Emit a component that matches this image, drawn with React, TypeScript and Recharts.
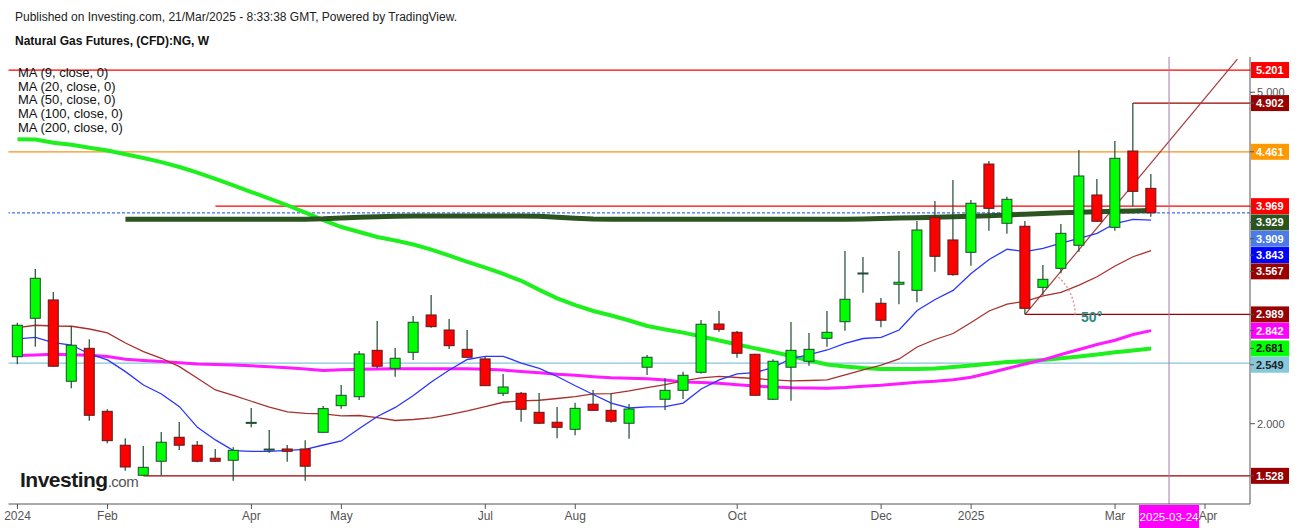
import { Bar, ComposedChart, Line, ReferenceDot, ReferenceLine, XAxis, YAxis } from "recharts";

// weekly candles, week 0 = 2024-01-01
const OPEN = [
  2.606, 2.954, 3.12, 2.384, 2.682, 2.112, 1.805, 1.533, 1.66, 1.877,
  1.805, 1.687, 1.669, 2.005, 1.768, 1.771, 1.771, 1.922, 2.163, 2.244,
  2.664, 2.501, 2.646, 2.984, 2.848, 2.673, 2.586, 2.275, 2.275, 2.103,
  2.013, 1.949, 2.176, 2.121, 2.004, 2.511, 2.221, 2.302, 2.465, 2.902,
  2.827, 2.628, 2.221, 2.511, 2.565, 2.773, 2.923, 3.358, 3.09, 3.262,
  3.207, 3.868, 3.663, 3.551, 4.35, 3.814, 3.787, 3.234, 3.406, 3.615,
  4.07, 3.777, 4.468, 4.13,
];
const HIGH = [
  2.914, 3.4, 3.192, 2.884, 2.764, 2.13, 1.868, 1.798, 1.925, 2.015,
  1.844, 1.771, 1.787, 2.142, 1.943, 1.807, 1.85, 2.16, 2.35, 2.658,
  2.93, 2.685, 2.975, 3.165, 2.948, 2.848, 2.607, 2.45, 2.287, 2.278,
  2.151, 2.19, 2.305, 2.275, 2.178, 2.622, 2.411, 2.471, 2.939, 3.02,
  2.839, 2.632, 2.583, 2.92, 2.821, 3.02, 3.563, 3.509, 3.138, 3.563,
  3.834, 4.015, 4.206, 4.025, 4.377, 4.055, 3.834, 3.436, 3.807, 4.477,
  4.215, 4.558, 4.902, 4.26,
];
const LOW = [
  2.538, 2.697, 2.515, 2.32, 2.027, 1.823, 1.575, 1.528, 1.53, 1.762,
  1.651, 1.655, 1.484, 1.967, 1.738, 1.656, 1.484, 1.918, 2.136, 2.215,
  2.501, 2.425, 2.577, 2.869, 2.676, 2.598, 2.34, 2.251, 2.018, 2.0,
  1.868, 1.895, 2.118, 2.009, 1.864, 2.441, 2.124, 2.224, 2.455, 2.833,
  2.597, 2.25, 2.215, 2.208, 2.525, 2.697, 2.842, 3.186, 2.873, 3.081,
  3.099, 3.376, 3.34, 3.43, 3.747, 3.72, 2.989, 3.165, 3.361, 3.557,
  3.828, 3.747, 3.968, 3.873,
];
const CLOSE = [
  2.891, 3.316, 2.52, 2.71, 2.076, 1.846, 1.608, 1.605, 1.832, 1.805,
  1.66, 1.66, 1.759, 2.012, 1.77, 1.75, 1.615, 2.136, 2.257, 2.631,
  2.52, 2.592, 2.918, 2.878, 2.706, 2.601, 2.344, 2.332, 2.13, 2.004,
  1.967, 2.139, 2.121, 2.022, 2.133, 2.601, 2.302, 2.438, 2.9, 2.854,
  2.637, 2.257, 2.565, 2.664, 2.673, 2.827, 3.126, 3.364, 2.936, 3.28,
  3.753, 3.515, 3.349, 3.995, 3.949, 4.031, 3.044, 3.307, 3.723, 4.242,
  3.832, 4.402, 4.103, 3.909,
];

const MA9 = [
  2.767, 2.782, 2.733, 2.712, 2.631, 2.577, 2.471, 2.35, 2.269, 2.154,
  1.967, 1.853, 1.756, 1.75, 1.75, 1.759, 1.768, 1.807, 1.844, 1.957,
  2.065, 2.147, 2.255, 2.377, 2.486, 2.581, 2.61, 2.61, 2.549, 2.5,
  2.427, 2.343, 2.264, 2.187, 2.142, 2.153, 2.154, 2.187, 2.314, 2.396,
  2.45, 2.463, 2.509, 2.59, 2.626, 2.667, 2.726, 2.771, 2.782, 2.848,
  3.025, 3.124, 3.206, 3.359, 3.486, 3.579, 3.558, 3.587, 3.635, 3.678,
  3.723, 3.812, 3.85, 3.843,
];
const MA20 = [
  2.869, 2.891, 2.884, 2.882, 2.857, 2.821, 2.73, 2.652, 2.592, 2.516,
  2.411, 2.305, 2.257, 2.203, 2.149, 2.106, 2.094, 2.088, 2.07, 2.074,
  2.054, 2.029, 2.038, 2.052, 2.082, 2.115, 2.154, 2.194, 2.206, 2.212,
  2.228, 2.244, 2.269, 2.272, 2.296, 2.326, 2.353, 2.388, 2.414, 2.429,
  2.418, 2.409, 2.396, 2.387, 2.391, 2.396, 2.441, 2.486, 2.531, 2.586,
  2.694, 2.762, 2.816, 2.916, 3.02, 3.083, 3.108, 3.156, 3.189, 3.255,
  3.33, 3.427, 3.511, 3.567,
];
const MA50 = [
  2.617, 2.622, 2.628, 2.624, 2.619, 2.608, 2.584, 2.572, 2.562, 2.551,
  2.54, 2.536, 2.531, 2.524, 2.516, 2.506, 2.495, 2.482, 2.488, 2.492,
  2.496, 2.498, 2.498, 2.498, 2.498, 2.498, 2.493, 2.485, 2.472, 2.462,
  2.447, 2.438, 2.425, 2.415, 2.412, 2.406, 2.396, 2.377, 2.373, 2.366,
  2.353, 2.34, 2.332, 2.325, 2.322, 2.321, 2.328, 2.339, 2.347, 2.361,
  2.375, 2.383, 2.398, 2.42, 2.459, 2.499, 2.54, 2.578, 2.626, 2.672,
  2.717, 2.755, 2.807, 2.842,
];
const MA100 = [
  4.574, 4.572, 4.543, 4.524, 4.498, 4.472, 4.438, 4.405, 4.368, 4.323,
  4.273, 4.216, 4.158, 4.097, 4.038, 3.977, 3.91, 3.842, 3.78, 3.735,
  3.69, 3.658, 3.622, 3.576, 3.521, 3.464, 3.412, 3.355, 3.293, 3.211,
  3.134, 3.074, 3.02, 2.979, 2.934, 2.884, 2.853, 2.824, 2.789, 2.753,
  2.717, 2.682, 2.649, 2.613, 2.572, 2.536, 2.518, 2.504, 2.496, 2.495,
  2.495, 2.5, 2.513, 2.527, 2.543, 2.558, 2.566, 2.577, 2.592, 2.608,
  2.626, 2.646, 2.663, 2.681,
];
const MA200 = [
  null, null, null, null, null, null, 3.85, 3.85, 3.85, 3.85,
  3.85, 3.85, 3.85, 3.85, 3.85, 3.85, 3.85, 3.854, 3.862, 3.868,
  3.873, 3.877, 3.88, 3.88, 3.88, 3.88, 3.88, 3.88, 3.88, 3.877,
  3.869, 3.86, 3.853, 3.85, 3.85, 3.85, 3.85, 3.85, 3.85, 3.85,
  3.85, 3.85, 3.85, 3.85, 3.85, 3.85, 3.85, 3.853, 3.857, 3.862,
  3.865, 3.869, 3.873, 3.878, 3.882, 3.889, 3.896, 3.902, 3.909, 3.914,
  3.918, 3.922, 3.926, 3.929,
];

const MONTH_TICKS = [0, 5, 13, 18, 26, 31, 40, 48, 53, 61, 66];
const MONTH_LABELS = ["2024", "Feb", "Apr", "May", "Jul", "Aug", "Oct", "Dec", "2025", "Mar", "Apr"];
const PRICE_TICKS = [2, 5];
const CURSOR_WEEK = 64;
const CURSOR_LABEL = "2025-03-24";

// horizontal drawings: price, first week (null = whole width)
const LEVELS = [
  { price: 5.201, from: null, color: "#ff0000", dash: undefined },
  { price: 4.902, from: 62, color: "#990000", dash: undefined },
  { price: 4.461, from: null, color: "#f7931e", dash: undefined },
  { price: 3.969, from: 11, color: "#ff0000", dash: undefined },
  { price: 3.909, from: null, color: "#3b6ff0", dash: "3 2" },
  { price: 2.989, from: 56, color: "#990000", dash: undefined },
  { price: 2.549, from: null, color: "#86c5d8", dash: undefined },
  { price: 1.528, from: 7, color: "#990000", dash: undefined },
];
const TREND = { fromWeek: 56, fromPrice: 2.989, toWeek: 67.8, toPrice: 5.3 };
const ANGLE_TEXT = "50°";

// price tags on the right axis
const TAGS = [
  { price: 5.201, bg: "#ff0000", fg: "#fff" },
  { price: 4.902, bg: "#990000", fg: "#fff" },
  { price: 4.461, bg: "#ff9900", fg: "#fff" },
  { price: 3.969, bg: "#ff0000", fg: "#fff" },
  { price: 3.929, bg: "#2b5420", fg: "#fff" },
  { price: 3.909, bg: "#4a7be8", fg: "#fff" },
  { price: 3.843, bg: "#0000ff", fg: "#fff" },
  { price: 3.567, bg: "#990000", fg: "#fff" },
  { price: 2.989, bg: "#990000", fg: "#fff" },
  { price: 2.842, bg: "#ff00ff", fg: "#fff" },
  { price: 2.681, bg: "#00ff00", fg: "#111" },
  { price: 2.549, bg: "#86c8dc", fg: "#222" },
  { price: 1.528, bg: "#990000", fg: "#fff" },
];

const LEGEND = ["MA (9, close, 0)", "MA (20, close, 0)", "MA (50, close, 0)", "MA (100, close, 0)", "MA (200, close, 0)"];

const W = 1301;
const H = 528;
const TOP = 57;
const XAXIS_H = 24;
const Y_MIN = 1.273;
const Y_MAX = 5.319;
const TAG_H = 16.3;

const data = OPEN.map((o, i) => ({
  week: i,
  open: o,
  high: HIGH[i],
  low: LOW[i],
  close: CLOSE[i],
  ma9: MA9[i],
  ma20: MA20[i],
  ma50: MA50[i],
  ma100: MA100[i],
  ma200: MA200[i],
}));

// push overlapping tags down, like the trading view does
const pxPerUnit = (H - TOP - XAXIS_H) / (Y_MAX - Y_MIN);
const tagShift: Record<number, number> = {};
let lastY = -Infinity;
for (const t of TAGS) {
  const natural = (Y_MAX - t.price) * pxPerUnit;
  const placed = Math.max(natural, lastY + TAG_H);
  tagShift[t.price] = placed - natural;
  lastY = placed;
}

function Candle(props: any) {
  const { x, width, y, height, payload } = props;
  const top = Math.min(y, y + height);
  const h = Math.abs(height);
  const span = payload.high - payload.low || 1;
  const yOf = (v: number) => top + ((payload.high - v) / span) * h;
  const cx = x + width / 2;
  const up = payload.close >= payload.open;
  const bodyTop = yOf(Math.max(payload.open, payload.close));
  const bodyH = Math.max(1, yOf(Math.min(payload.open, payload.close)) - bodyTop);
  return (
    <g>
      <line x1={cx} x2={cx} y1={top} y2={top + h} stroke="#1f4a33" strokeWidth={1.2} />
      <rect
        x={cx - 5}
        y={bodyTop}
        width={10}
        height={bodyH}
        fill={up ? "#00ff00" : "#ff0000"}
        stroke={up ? "#1f4a33" : "#5a1c1c"}
        strokeWidth={1}
      />
    </g>
  );
}

function PriceTag(props: any) {
  const { viewBox, tag } = props;
  if (!viewBox) return null;
  const right = viewBox.x + viewBox.width;
  const y = viewBox.y + (tagShift[tag.price] || 0);
  return (
    <g>
      <rect x={right + 1} y={y - 8} width={38} height={16} fill={tag.bg} />
      <line x1={right} x2={right + 4} y1={y} y2={y} stroke="#555" />
      <text x={right + 6} y={y + 4} fill={tag.fg} fontSize={11} fontWeight="bold" fontFamily="Arial, 'Liberation Sans', sans-serif">
        {tag.price.toFixed(3)}
      </text>
    </g>
  );
}

function CursorTag(props: any) {
  const { viewBox } = props;
  if (!viewBox) return null;
  const bottom = viewBox.y + viewBox.height;
  return (
    <g>
      <rect x={viewBox.x - 30} y={bottom + 1} width={60} height={23} fill="#ff00ff" />
      <text x={viewBox.x} y={bottom + 17} textAnchor="middle" fill="#fff" fontSize={11.5} fontFamily="Arial, 'Liberation Sans', sans-serif">
        {CURSOR_LABEL}
      </text>
    </g>
  );
}

function AngleMark(props: any) {
  const { cx, cy } = props;
  const r = 50;
  const deg = 50;
  const ex = cx + r * Math.cos((deg * Math.PI) / 180);
  const ey = cy - r * Math.sin((deg * Math.PI) / 180);
  return (
    <g>
      <path d={`M ${cx + r} ${cy} A ${r} ${r} 0 0 0 ${ex} ${ey}`} fill="none" stroke="#e59a9a" strokeWidth={1.5} strokeDasharray="2 2" />
      <text x={cx + 56} y={cy + 8} fill="#2b8a7e" fontSize={14} fontWeight="bold" fontFamily="Arial, 'Liberation Sans', sans-serif">
        {ANGLE_TEXT}
      </text>
    </g>
  );
}

function MonthTick(props: any) {
  const { x, y, payload } = props;
  const idx = MONTH_TICKS.indexOf(payload.value);
  const label = idx >= 0 ? MONTH_LABELS[idx] : "";
  // the last "Apr" sits half under the cursor tag
  const shift = payload.value === 66 ? 3 : 0;
  return (
    <text x={x + shift} y={y + 9} textAnchor="middle" fill="#555" fontSize={12}>
      {label}
    </text>
  );
}

export default function App() {
  const font = "Arial, 'Liberation Sans', sans-serif";
  return (
    <div style={{ position: "absolute", left: 0, top: 0, width: W, height: H, background: "#fff", fontFamily: font }}>
      <ComposedChart width={W} height={H} data={data} margin={{ top: TOP, right: 0, bottom: 0, left: 8.5 }} style={{ fontFamily: font }}>
        <XAxis
          dataKey="week"
          type="number"
          domain={[-0.5, 68.5]}
          allowDataOverflow
          ticks={MONTH_TICKS}
          interval={0}
          height={XAXIS_H}
          stroke="#555"
          tickSize={5}
          tick={<MonthTick />}
        />
        <YAxis
          orientation="right"
          type="number"
          domain={[Y_MIN, Y_MAX]}
          allowDataOverflow
          ticks={PRICE_TICKS}
          tickFormatter={(v: number) => v.toFixed(3)}
          width={51}
          stroke="#555"
          tickSize={5}
          tick={{ fill: "#555", fontSize: 11 }}
        />

        {LEVELS.map((l) =>
          l.from === null ? (
            <ReferenceLine key={l.price} y={l.price} stroke={l.color} strokeWidth={1.2} strokeDasharray={l.dash} ifOverflow="visible" />
          ) : (
            <ReferenceLine
              key={l.price}
              segment={[{ x: l.from, y: l.price }, { x: 68.5, y: l.price }]}
              stroke={l.color}
              strokeWidth={1.2}
              ifOverflow="visible"
            />
          ),
        )}
        <ReferenceLine
          segment={[{ x: TREND.fromWeek, y: TREND.fromPrice }, { x: TREND.toWeek, y: TREND.toPrice }]}
          stroke="#a83a3a"
          strokeWidth={1.2}
          ifOverflow="visible"
        />
        <ReferenceDot x={TREND.fromWeek} y={TREND.fromPrice} r={0} ifOverflow="visible" shape={(p: any) => <AngleMark cx={p.cx} cy={p.cy} />} />
        <ReferenceLine x={CURSOR_WEEK} stroke="#a878a8" strokeWidth={1} label={<CursorTag />} />

        <Line dataKey="ma100" stroke="#1ef01e" strokeWidth={4} dot={false} isAnimationActive={false} />
        <Line dataKey="ma50" stroke="#ff1aff" strokeWidth={3} dot={false} isAnimationActive={false} />
        <Line dataKey="ma200" stroke="#2b5420" strokeWidth={5} dot={false} isAnimationActive={false} />
        <Line dataKey="ma20" stroke="#a8302c" strokeWidth={1.3} dot={false} isAnimationActive={false} />
        <Line dataKey="ma9" stroke="#2a35ff" strokeWidth={1.3} dot={false} isAnimationActive={false} />

        <Bar dataKey={(d: any) => [d.low, d.high]} shape={<Candle />} isAnimationActive={false} zIndex={450} />

        {TAGS.map((t) => (
          <ReferenceLine key={"tag" + t.price} y={t.price} stroke="none" ifOverflow="visible" label={<PriceTag tag={t} />} />
        ))}
      </ComposedChart>

      <div style={{ position: "absolute", left: 15, top: 10, fontSize: 12, color: "#222", whiteSpace: "nowrap" }}>
        Published on Investing.com, 21/Mar/2025 - 8:33:38 GMT, Powered by TradingView.
      </div>
      <div style={{ position: "absolute", left: 15, top: 34, fontSize: 12, fontWeight: "bold", color: "#111", whiteSpace: "nowrap" }}>
        Natural Gas Futures, (CFD):NG, W
      </div>
      <div style={{ position: "absolute", left: 18, top: 66, fontSize: 13, lineHeight: "13.7px", color: "#111" }}>
        {LEGEND.map((t) => (
          <div key={t}>{t}</div>
        ))}
      </div>
      <div style={{ position: "absolute", left: 20, top: 468, whiteSpace: "nowrap", letterSpacing: -0.5 }}>
        <span style={{ fontSize: 21, fontWeight: "bold", color: "#1a1a1a" }}>Investing</span>
        <span style={{ fontSize: 15, color: "#555" }}>.com</span>
      </div>
    </div>
  );
}
